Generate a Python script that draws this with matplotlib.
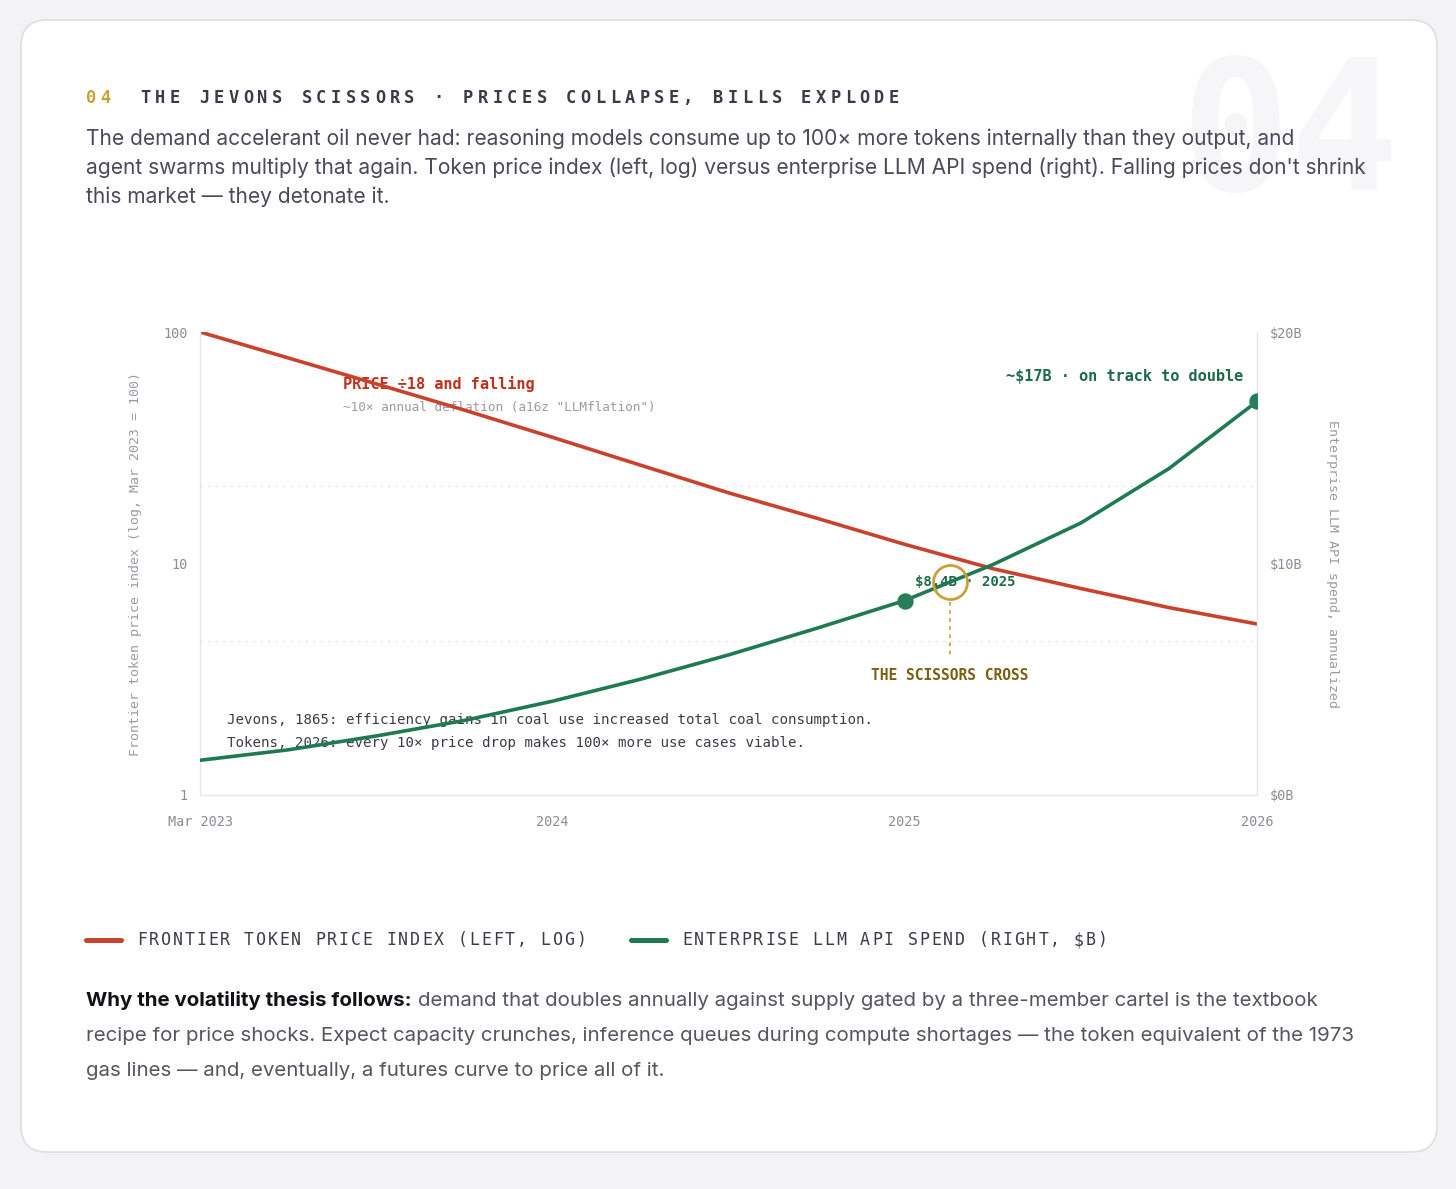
import numpy as np
import matplotlib
matplotlib.use("Agg")
import matplotlib.pyplot as plt
from matplotlib.patches import FancyBboxPatch
from matplotlib.lines import Line2D

# ---------------- data ----------------
x_ticks = [0, 1, 2, 3]
x_tick_labels = ["Mar 2023", "2024", "2025", "2026"]
t = [0, 0.25, 0.5, 0.75, 1.0, 1.25, 1.5, 1.75, 2.0, 2.25, 2.5, 2.75, 3.0]
price_index = [100, 77.3, 59.7, 46.0, 35.1, 26.6, 20.2, 15.7, 12.1, 9.5, 7.8, 6.45, 5.48]
api_spend = [1.5, 1.95, 2.55, 3.22, 4.05, 5.0, 6.05, 7.2, 8.4, 9.95, 11.75, 14.1, 17.0]
left_ticks = [1, 10, 100]
left_tick_labels = ["1", "10", "100"]
right_ticks = [0, 10, 20]
right_tick_labels = ["$0B", "$10B", "$20B"]
dot_t = [2.0, 3.0]
cross_t = 2.13

W, H = 1456, 1189
MONO = "DejaVu Sans Mono"
SANS = ["Inter", "DejaVu Sans"]

RED = "#c9432c"
GREEN = "#1f7a52"
GOLD = "#c9a23a"
GREY = "#8c8c96"

fig = plt.figure(figsize=(W / 100, H / 100), dpi=100)
fig.patch.set_facecolor("#f3f3f5")


def P(x, y):
    return (x / W, 1 - y / H)


def pt(px):
    return px * 72 / 100


# card
card = FancyBboxPatch(P(21, 1152), 1416 / W, 1132 / H,
                      boxstyle="round,pad=0,rounding_size=0.018",
                      transform=fig.transFigure, facecolor="white",
                      edgecolor="#dedee3", linewidth=1.2, zorder=0,
                      mutation_aspect=W / H)
fig.patches.append(card)

# watermark
fig.text(*P(1180, 190), "04", fontsize=pt(182), family=MONO, weight="bold",
         color="#f6f6f8", ha="left", va="baseline", zorder=1)


def spaced(x, y, s, size_px, spacing_px, **kw):
    adv = 0.602 * size_px + spacing_px
    for i, ch in enumerate(s):
        if ch != " ":
            fig.text(*P(x + i * adv, y), ch, fontsize=pt(size_px), family=MONO,
                     ha="left", va="center", **kw)


# title
spaced(86, 98, "04", 17, 4.45, color="#c9a23a", weight="bold", zorder=3)
spaced(140, 98, "THE JEVONS SCISSORS · PRICES COLLAPSE, BILLS EXPLODE", 17, 4.45,
       color="#3a3a48", weight="bold", zorder=3)

sub = ["The demand accelerant oil never had: reasoning models consume up to 100× more tokens internally than they output, and",
       "agent swarms multiply that again. Token price index (left, log) versus enterprise LLM API spend (right). Falling prices don't shrink",
       "this market — they detonate it."]
for i, line in enumerate(sub):
    fig.text(*P(86, 139 + 29 * i), line, fontsize=pt(21.0), family=SANS,
             color="#4a4a58", ha="left", va="center", zorder=3)

# ---------------- axes ----------------
ax = fig.add_axes([200 / W, (H - 795) / H, 1057 / W, 463 / H])
ax.set_zorder(2)
ax.patch.set_visible(False)
ax.set_yscale("log")
ax.set_xlim(0, 3)
ax.set_ylim(1, 100)
ax.plot(t, price_index, color=RED, lw=2.6, solid_capstyle="round", zorder=2)
ax.spines["top"].set_visible(False)
for s in ["left", "bottom", "right"]:
    ax.spines[s].set_color("#e6e6ea")
    ax.spines[s].set_linewidth(1.0)
ax.set_xticks(x_ticks)
ax.set_xticklabels(x_tick_labels)
ax.set_yticks(left_ticks)
ax.set_yticklabels(left_tick_labels)
ax.yaxis.set_minor_locator(matplotlib.ticker.NullLocator())
ax.tick_params(axis="both", length=0, labelsize=pt(13.5), labelcolor=GREY)
ax.tick_params(axis="y", pad=pt(12))
ax.tick_params(axis="x", pad=pt(20))
for lab in ax.get_xticklabels() + ax.get_yticklabels():
    lab.set_family(MONO)
for frac in (1 / 3, 2 / 3):
    ax.axhline(10 ** (2 * frac), color="#e4e4e8", lw=0.9, ls=(0, (2, 4)), zorder=0)
ax.set_ylabel("Frontier token price index (log, Mar 2023 = 100)", family=MONO,
              fontsize=pt(13.2), color="#9a9aa3", labelpad=pt(22))

ax2 = ax.twinx()
ax2.set_zorder(3)
ax2.patch.set_visible(False)
ax2.set_ylim(0, 20)
ax2.plot(t, api_spend, color=GREEN, lw=2.6, solid_capstyle="round", zorder=2)
ax2.plot(dot_t, np.interp(dot_t, t, api_spend), "o", color="#2a7d5a",
         markersize=pt(15), zorder=4)
for s in ax2.spines.values():
    s.set_visible(False)
ax2.set_yticks(right_ticks)
ax2.set_yticklabels(right_tick_labels)
ax2.tick_params(axis="y", length=0, labelsize=pt(13.5), labelcolor=GREY, pad=pt(13))
for lab in ax2.get_yticklabels():
    lab.set_family(MONO)
ax2.set_ylabel("Enterprise LLM API spend, annualized", family=MONO, rotation=270,
               fontsize=pt(13.2), color="#9a9aa3", labelpad=pt(36))

# scissors cross marker
cross_spend = np.interp(cross_t, t, api_spend)
ax2.plot([cross_t], [cross_spend], "o", markersize=pt(34), markerfacecolor="none",
         markeredgecolor=GOLD, markeredgewidth=pt(2.8), zorder=5)
ax2.plot([cross_t, cross_t], [cross_spend - 0.85, 6.05], color=GOLD, lw=pt(1.8),
         ls=(0, (2, 2.5)), zorder=5)


# annotations (figure pixel coordinates, drawn beneath the curves)
def T(x, y, s, **kw):
    fig.text(*P(x, y), s, family=MONO, zorder=1, **kw)


T(343, 384, "PRICE ÷18 and falling", fontsize=pt(15.2), color="#c0301a",
  weight="bold", ha="left", va="center")
T(343, 407, "~10× annual deflation (a16z \"LLMflation\")", fontsize=pt(12.75),
  color="#9b9ba3", ha="left", va="center")
T(1243, 376, "~$17B · on track to double", fontsize=pt(15.3), color="#1d6b48",
  weight="bold", ha="right", va="center")
T(915, 582, "$8.4B · 2025", fontsize=pt(14.0), color="#1d6b48", weight="bold",
  ha="left", va="center")
T(950, 675, "THE SCISSORS CROSS", fontsize=pt(14.6), color="#7a5e12",
  weight="bold", ha="center", va="center")
T(227, 720, "Jevons, 1865: efficiency gains in coal use increased total coal consumption.",
  fontsize=pt(14.1), color="#3c3c48", ha="left", va="center")
T(227, 743, "Tokens, 2026: every 10× price drop makes 100× more use cases viable.",
  fontsize=pt(14.1), color="#3c3c48", ha="left", va="center")

# legend
fig.lines.append(Line2D([86 / W, 121 / W], [1 - 940 / H] * 2, transform=fig.transFigure,
                        color=RED, lw=pt(5), solid_capstyle="round"))
fig.lines.append(Line2D([631 / W, 666 / W], [1 - 940 / H] * 2, transform=fig.transFigure,
                        color=GREEN, lw=pt(5), solid_capstyle="round"))
spaced(137, 940, "FRONTIER TOKEN PRICE INDEX (LEFT, LOG)", 16.5, 1.94, color="#3c3c48")
spaced(682, 940, "ENTERPRISE LLM API SPEND (RIGHT, $B)", 16.5, 1.94, color="#3c3c48")

# closing paragraph
fig.canvas.draw()
r = fig.canvas.get_renderer()
FS = pt(20.5)
bold = fig.text(*P(86, 1001), "Why the volatility thesis follows:", fontsize=FS,
                family=SANS, weight="bold", color="#111116", ha="left", va="center")
bb = bold.get_window_extent(renderer=r)
fig.text(bb.x1 / W + 6 / W, 1 - 1001 / H,
         "demand that doubles annually against supply gated by a three-member cartel is the textbook",
         fontsize=FS, family=SANS, color="#55555f", ha="left", va="center")
fig.text(*P(86, 1036), "recipe for price shocks. Expect capacity crunches, inference queues during compute shortages — the token equivalent of the 1973",
         fontsize=FS, family=SANS, color="#55555f", ha="left", va="center")
fig.text(*P(86, 1071), "gas lines — and, eventually, a futures curve to price all of it.",
         fontsize=FS, family=SANS, color="#55555f", ha="left", va="center")

fig.savefig("out.png", dpi=100, facecolor=fig.get_facecolor())
